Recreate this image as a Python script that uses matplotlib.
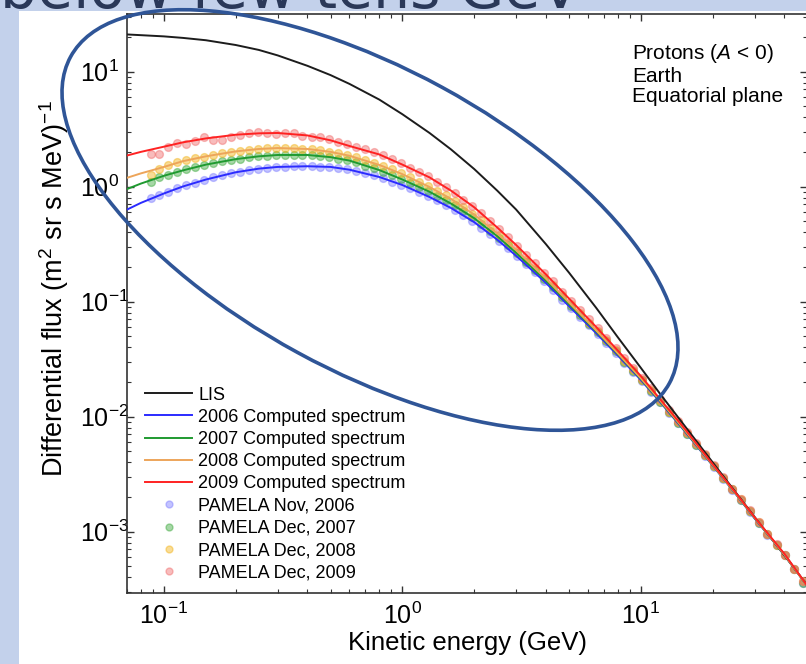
import matplotlib
matplotlib.use('Agg')
import matplotlib.pyplot as plt
from matplotlib.patches import Ellipse, Rectangle
from matplotlib.lines import Line2D

plt.rcParams['font.family'] = ['Liberation Sans', 'DejaVu Sans']
plt.rcParams['mathtext.fontset'] = 'custom'
plt.rcParams['mathtext.rm'] = 'Liberation Sans'
plt.rcParams['mathtext.it'] = 'Liberation Sans:italic'
plt.rcParams['mathtext.bf'] = 'Liberation Sans:bold'
plt.rcParams['mathtext.default'] = 'regular'

# ---------------- data ----------------
E_line = [0.07, 0.08, 0.1, 0.12, 0.15, 0.2, 0.25, 0.3, 0.4, 0.5, 0.6, 0.8, 1.0, 1.3, 1.6,
          2.0, 2.5, 3.0, 4.0, 5.0, 6.5, 8.0, 10, 12, 15, 20, 25, 30, 40, 50]
lis = [21.0, 20.7, 20.2, 19.6, 18.7, 17.0, 15.4, 13.8, 11.2, 9.3, 7.8, 5.7, 4.25, 2.92, 2.1,
       1.42, 0.92, 0.63, 0.315, 0.178, 0.088, 0.049, 0.0265, 0.0159, 0.0087, 0.0040,
       0.00219, 0.00134, 0.00062, 0.000338]
calc_2006 = [0.63, 0.72, 0.87, 1.0, 1.15, 1.33, 1.43, 1.48, 1.5, 1.48, 1.4, 1.21, 1.03, 0.81,
             0.65, 0.49, 0.345, 0.25, 0.145, 0.091, 0.053, 0.034, 0.0208, 0.0135, 0.0078,
             0.00375, 0.00212, 0.0013, 0.00063, 0.000333]
calc_2007 = [0.95, 1.06, 1.24, 1.38, 1.55, 1.73, 1.83, 1.88, 1.88, 1.8, 1.68, 1.39, 1.15, 0.9,
             0.71, 0.53, 0.37, 0.265, 0.152, 0.095, 0.055, 0.035, 0.0212, 0.0137, 0.0079,
             0.00378, 0.00213, 0.00131, 0.00063, 0.000333]
calc_2008 = [1.19, 1.3, 1.48, 1.66, 1.83, 2.02, 2.12, 2.16, 2.12, 2.0, 1.85, 1.54, 1.28, 0.99,
             0.78, 0.57, 0.39, 0.28, 0.158, 0.098, 0.056, 0.0355, 0.0215, 0.0139, 0.008,
             0.0038, 0.00214, 0.00132, 0.00063, 0.000333]
calc_2009 = [1.86, 2.0, 2.22, 2.42, 2.62, 2.82, 2.9, 2.92, 2.78, 2.52, 2.25, 1.9, 1.55, 1.2,
             0.92, 0.66, 0.44, 0.31, 0.172, 0.106, 0.06, 0.0375, 0.0225, 0.0143, 0.0082,
             0.00385, 0.00217, 0.00133, 0.00064, 0.000335]

E_pamela = [0.0879, 0.0957, 0.1045, 0.1138, 0.1242, 0.1352, 0.1476, 0.1607, 0.1754, 0.1910,
            0.2084, 0.2270, 0.2477, 0.2698, 0.2944, 0.3206, 0.3499, 0.3811, 0.4159, 0.4529,
            0.4943, 0.5383, 0.5875, 0.6397, 0.6982, 0.7603, 0.8299, 0.9036, 0.9863, 1.074,
            1.172, 1.276, 1.393, 1.517, 1.656, 1.803, 1.968, 2.143, 2.339, 2.547,
            2.780, 3.027, 3.304, 3.597, 3.926, 4.276, 4.667, 5.082, 5.546, 6.039,
            6.592, 7.178, 7.834, 8.531, 9.311, 10.14, 11.07, 12.05, 13.15, 14.32,
            15.63, 17.02, 18.58, 20.23, 22.08, 24.04, 26.24, 28.58, 31.19, 33.96,
            37.07, 40.36, 44.06, 47.97]
pamela_2006 = [0.79, 0.84, 0.90, 0.97, 1.03, 1.08, 1.13, 1.20, 1.25, 1.30,
               1.34, 1.39, 1.43, 1.45, 1.48, 1.49, 1.50, 1.50, 1.50, 1.49,
               1.48, 1.45, 1.41, 1.36, 1.31, 1.25, 1.18, 1.10, 1.04, 0.97,
               0.89, 0.82, 0.76, 0.69, 0.63, 0.56, 0.50, 0.44, 0.385, 0.335,
               0.29, 0.248, 0.21, 0.18, 0.15, 0.127, 0.104, 0.088, 0.074, 0.062,
               0.052, 0.0435, 0.0355, 0.029, 0.0243, 0.0203, 0.0165, 0.0133, 0.0108, 0.0087,
               0.0070, 0.0057, 0.0045, 0.00366, 0.00288, 0.00231, 0.00188, 0.00149, 0.00118, 0.00094,
               0.00076, 0.00062, 0.00047, 0.00036]
pamela_2007 = [1.10, 1.20, 1.27, 1.33, 1.42, 1.48, 1.54, 1.60, 1.65, 1.70,
               1.75, 1.79, 1.84, 1.86, 1.88, 1.89, 1.89, 1.88, 1.87, 1.84,
               1.81, 1.75, 1.69, 1.62, 1.52, 1.44, 1.35, 1.26, 1.16, 1.08,
               0.99, 0.92, 0.83, 0.76, 0.69, 0.61, 0.54, 0.475, 0.41, 0.36,
               0.31, 0.263, 0.22, 0.188, 0.157, 0.133, 0.109, 0.092, 0.077, 0.064,
               0.054, 0.045, 0.0368, 0.030, 0.0249, 0.0206, 0.0168, 0.0135, 0.0109, 0.0088,
               0.0071, 0.0057, 0.0046, 0.00368, 0.0029, 0.00232, 0.00189, 0.0015, 0.00119, 0.00095,
               0.00077, 0.00062, 0.00047, 0.00036]
pamela_2008 = [1.27, 1.42, 1.55, 1.62, 1.70, 1.76, 1.82, 1.88, 1.94, 2.0,
               2.04, 2.08, 2.13, 2.15, 2.16, 2.16, 2.15, 2.13, 2.10, 2.06,
               2.0, 1.95, 1.87, 1.79, 1.69, 1.60, 1.50, 1.41, 1.30, 1.20,
               1.10, 1.01, 0.92, 0.84, 0.75, 0.66, 0.58, 0.51, 0.44, 0.38,
               0.325, 0.277, 0.23, 0.195, 0.163, 0.138, 0.113, 0.095, 0.079, 0.065,
               0.055, 0.046, 0.0375, 0.0305, 0.0253, 0.0209, 0.0170, 0.0137, 0.0110, 0.0089,
               0.0072, 0.0058, 0.0046, 0.00372, 0.00292, 0.00233, 0.0019, 0.00151, 0.0012, 0.00095,
               0.00077, 0.00062, 0.00047, 0.00037]
pamela_2009 = [1.90, 1.90, 2.22, 2.38, 2.36, 2.50, 2.68, 2.56, 2.52, 2.70,
               2.82, 2.90, 2.95, 2.94, 2.88, 2.92, 2.90, 2.76, 2.68, 2.70,
               2.60, 2.45, 2.34, 2.20, 2.12, 2.00, 1.88, 1.74, 1.60, 1.46,
               1.34, 1.23, 1.10, 0.99, 0.88, 0.77, 0.68, 0.585, 0.50, 0.43,
               0.365, 0.305, 0.255, 0.215, 0.178, 0.150, 0.122, 0.102, 0.085, 0.070,
               0.059, 0.048, 0.0395, 0.032, 0.0265, 0.0218, 0.0176, 0.0141, 0.0113, 0.0092,
               0.0074, 0.0059, 0.0047, 0.0038, 0.00296, 0.00236, 0.00192, 0.00153, 0.00121, 0.00096,
               0.00078, 0.00062, 0.00047, 0.00037]

line_labels = ['LIS', '2006 Computed spectrum', '2007 Computed spectrum',
               '2008 Computed spectrum', '2009 Computed spectrum']
point_labels = ['PAMELA Nov, 2006', 'PAMELA Dec, 2007', 'PAMELA Dec, 2008', 'PAMELA Dec, 2009']
x_label = 'Kinetic energy (GeV)'
y_label = 'Differential flux (m$^2$ sr s MeV)$^{-1}$'
info_text = 'Protons ($\\mathit{A}$ < 0)\nEarth\nEquatorial plane'
slide_title = 'below few tens GeV'

line_colors = ['#1c1c1c', '#2b2bff', '#1f9a30', '#eda55a', '#ff2222']
point_colors = ['#7b7bff', '#3aa83a', '#f2b216', '#f06b6b']

# ---------------- figure ----------------
W, H = 806, 664
fig = plt.figure(figsize=(W / 100, H / 100), dpi=100)
fig.patch.set_facecolor('#c3d1eb')
fig.add_artist(Rectangle((19 / W, 0), 1, 1 - 11 / H, transform=fig.transFigure,
                         facecolor='white', edgecolor='none', zorder=-5))
fig.text(0.0, 1 - 8 / H, slide_title, fontsize=42, color='#2a3858',
         va='baseline', ha='left', family=['DejaVu Sans'])

ax = fig.add_axes([127 / W, 71 / H, 680.5 / W, 579 / H])
ax.set_xscale('log')
ax.set_yscale('log')
ax.set_facecolor('none')

series_pts = [pamela_2006, pamela_2007, pamela_2008, pamela_2009]
for vals, col in zip(series_pts, point_colors):
    ax.plot(E_pamela, vals, ls='none', marker='o', ms=5.6, mfc=col, mec=col,
            alpha=0.45, mew=1.0, zorder=2)

series_lines = [lis, calc_2006, calc_2007, calc_2008, calc_2009]
for vals, col in zip(series_lines, line_colors):
    ax.plot(E_line, vals, color=col, lw=1.4, zorder=3)

ax.set_xlim(0.07, 50)
ax.set_ylim(2.92e-4, 10 ** 1.5)

for s in ax.spines.values():
    s.set_color('#333333')
    s.set_linewidth(1.2)
ax.tick_params(which='both', direction='in', top=True, right=True, colors='#333333',
               labelcolor='black', labelsize=18)
ax.tick_params(which='major', length=5, width=1)
ax.tick_params(which='minor', length=3, width=0.8)
ax.tick_params(axis='x', pad=7)
ax.tick_params(axis='y', pad=34)

ax.set_xlabel(x_label, fontsize=18.5, labelpad=1)
ax.set_ylabel(y_label, fontsize=19.5)
ax.yaxis.set_label_coords(-0.082, 0.525)

handles = [Line2D([], [], color=c, lw=1.4) for c in line_colors]
handles += [Line2D([], [], ls='none', marker='o', ms=5.0, mfc=c, mec=c, alpha=0.45)
            for c in point_colors]
ax.legend(handles, line_labels + point_labels, loc='lower left',
          bbox_to_anchor=(0.0265, 0.02), frameon=False, fontsize=13,
          handlelength=2.6, handletextpad=0.35, labelspacing=0.29,
          borderaxespad=0, borderpad=0)

fig.text(632 / W, 1 - 42 / H, info_text, fontsize=15, va='top', ha='left',
         linespacing=1.1)

for t in ax.get_yticklabels():
    t.set_horizontalalignment('left')

# overlay highlight ellipse (pixel coordinates)
ov = fig.add_axes([0, 0, 1, 1])
ov.set_xlim(0, W)
ov.set_ylim(H, 0)
ov.axis('off')
ov.add_patch(Ellipse((370, 220), 682, 302, angle=28.6, fill=False,
                     edgecolor='#2f5597', lw=2.6))

fig.savefig('out.png', dpi=100, facecolor=fig.get_facecolor())
